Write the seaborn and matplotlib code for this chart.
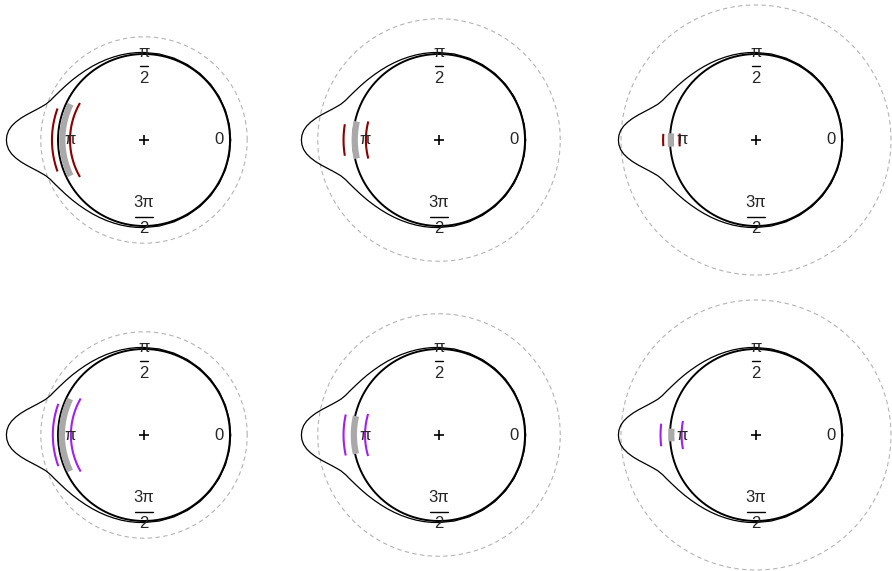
import numpy as np
import pandas as pd
import matplotlib
matplotlib.use("Agg")
import matplotlib.pyplot as plt
import seaborn as sns

# density curve (same in every panel): radius at angular offset from pi, symmetric
dens_offset_deg = [0, 2, 4, 6, 8, 10, 12, 14, 16, 18, 20, 23, 26, 30, 35, 40, 45, 50,
                   55, 60, 65, 70, 75, 80, 85, 90, 100, 110, 120, 130, 140, 150, 160,
                   170, 180]
dens_radius = [1.600, 1.595, 1.578, 1.548, 1.505, 1.455, 1.400, 1.345, 1.295, 1.252,
               1.215, 1.180, 1.158, 1.132, 1.107, 1.087, 1.070, 1.057, 1.047, 1.039,
               1.033, 1.028, 1.025, 1.022, 1.020, 1.018, 1.016, 1.014, 1.012, 1.011,
               1.010, 1.009, 1.008, 1.008, 1.008]

# outer dashed reference circle per column
ref_radius = [1.20, 1.41, 1.57]

# interval arcs around pi: (radius, half span deg) for outer, gray, inner
row_colors = ["#8B0000", "#A020F0"]
outer_arc = [[(1.07, 20), (1.11, 9.5), (1.08, 3.8)],
             [(1.06, 20), (1.11, 12.4), (1.11, 6.8)]]
gray_arc = [[(0.95, 26), (0.98, 12.7), (0.99, 4.5)],
            [(0.955, 26), (0.99, 12.8), (0.985, 4.3)]]
inner_arc = [[(0.86, 30), (0.85, 14.7), (0.89, 4.8)],
             [(0.85, 30), (0.86, 16.5), (0.865, 10.9)]]

# axis labels: 0 and pi plain, pi/2 and 3pi/2 as stacked fractions
label_zero = "0"
label_pi = "π"
frac_top = ("π", "2")     # numerator, denominator at pi/2
frac_bottom = ("3π", "2")  # at 3pi/2

# panel centres in pixels (x from left, y from top)
col_x = [144, 439, 756]
row_y = [140, 435]
unit_px = 86

sns.set_style("white")
plt.rcParams["font.family"] = ["Liberation Sans", "DejaVu Sans"]

W, H = 892, 571
fig = plt.figure(figsize=(W / 100, H / 100), dpi=100)

t = np.linspace(0, 2 * np.pi, 721)

# full density curve (mirror the offsets around pi)
off = np.deg2rad(np.array(dens_offset_deg))
rad = np.array(dens_radius)
ang_full = np.concatenate([np.pi - off[::-1], np.pi + off[1:]])
rad_full = np.concatenate([rad[::-1], rad[1:]])
dens_df = pd.DataFrame({"x": rad_full * np.cos(ang_full), "y": rad_full * np.sin(ang_full)})


def arc(ax, r, half, color, lw):
    a = np.deg2rad(np.linspace(180 - half, 180 + half, 60))
    ax.plot(r * np.cos(a), r * np.sin(a), color=color, lw=lw, solid_capstyle="butt")


half = 1.7 * unit_px
fs = 12
for i, cy in enumerate(row_y):
    for j, cx in enumerate(col_x):
        ax = fig.add_axes([(cx - half) / W, (H - cy - half) / H, 2 * half / W, 2 * half / H])
        ax.set_xlim(-1.7, 1.7)
        ax.set_ylim(-1.7, 1.7)
        ax.axis("off")

        rr = ref_radius[j]
        ax.plot(rr * np.cos(t), rr * np.sin(t), color="#B4B4B4", lw=0.8, ls=(0, (4, 3)))
        ax.plot(np.cos(t), np.sin(t), color="black", lw=1.4)
        sns.lineplot(data=dens_df, x="x", y="y", sort=False, estimator=None,
                     color="black", lw=0.9, ax=ax)

        arc(ax, *gray_arc[i][j], "#A9A9A9", 4.5)
        arc(ax, *outer_arc[i][j], row_colors[i], 1.5)
        arc(ax, *inner_arc[i][j], row_colors[i], 1.5)

        ax.plot(0, 0, marker="+", color="black", ms=7, mew=1.2)
        ax.text(0.87, 0, label_zero, ha="center", va="center", fontsize=fs)
        ax.text(-0.86, 0, label_pi, ha="center", va="center", fontsize=fs)
        # pi/2
        ax.text(0, 1.02, frac_top[0], ha="center", va="center", fontsize=fs)
        ax.plot([-0.05, 0.05], [0.86, 0.86], color="black", lw=1)
        ax.text(0, 0.71, frac_top[1], ha="center", va="center", fontsize=fs)
        # 3pi/2
        ax.text(0, -0.73, frac_bottom[0], ha="center", va="center", fontsize=fs)
        ax.plot([-0.1, 0.1], [-0.90, -0.90], color="black", lw=1)
        ax.text(0, -1.03, frac_bottom[1], ha="center", va="center", fontsize=fs)
        ax.set_xlabel("")
        ax.set_ylabel("")

fig.savefig("out.png", dpi=100)
